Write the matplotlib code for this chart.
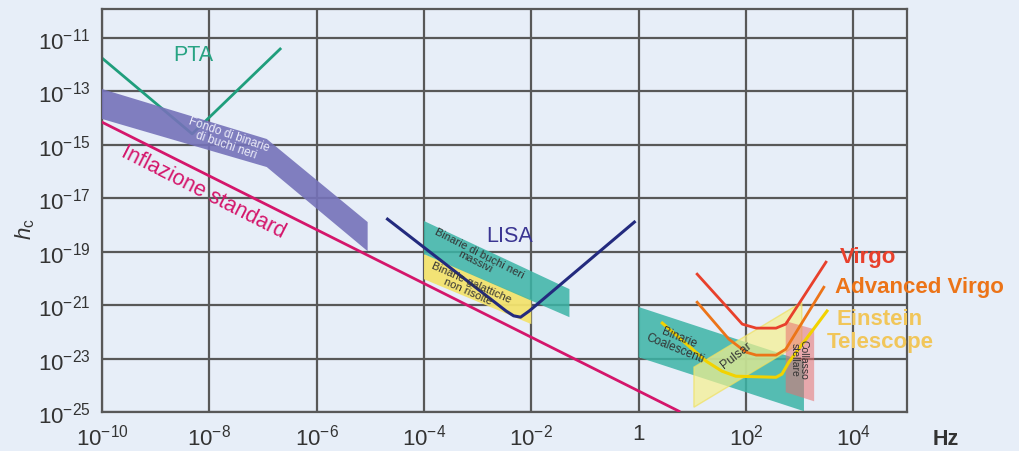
import numpy as np
import matplotlib
matplotlib.use("Agg")
import matplotlib.pyplot as plt
from matplotlib.patches import Polygon

plt.rcParams['font.family'] = ['Liberation Sans', 'DejaVu Sans']
plt.rcParams['mathtext.fontset'] = 'custom'
plt.rcParams['mathtext.rm'] = 'Liberation Sans'
plt.rcParams['mathtext.it'] = 'Liberation Sans:italic'
plt.rcParams['mathtext.bf'] = 'Liberation Sans:bold'
plt.rcParams['mathtext.default'] = 'regular'

# ---- data (log10 of frequency [Hz] and of h_c) ----
x_ticks_exp = [-10, -8, -6, -4, -2, 0, 2, 4]
x_tick_labels = [r'$10^{-10}$', r'$10^{-8}$', r'$10^{-6}$', r'$10^{-4}$', r'$10^{-2}$', '1', r'$10^{2}$', r'$10^{4}$']
y_ticks_exp = [-11, -13, -15, -17, -19, -21, -23, -25]
y_tick_labels = [r'$10^{-11}$', r'$10^{-13}$', r'$10^{-15}$', r'$10^{-17}$', r'$10^{-19}$', r'$10^{-21}$', r'$10^{-23}$', r'$10^{-25}$']

pta_x = [-10.0, -8.32, -6.68]
pta_y = [-11.75, -14.59, -11.41]

infl_x = [-10.0, 0.75]
infl_y = [-14.15, -24.97]

smbh_bg_x = [-10.0, -6.93, -5.05, -5.05, -6.93, -10.0]
smbh_bg_y = [-12.91, -14.78, -17.89, -18.98, -15.83, -14.03]

lisa_x = [-4.68, -2.47, -2.33, -2.20, -2.04, -0.08]
lisa_y = [-17.78, -21.22, -21.40, -21.45, -21.22, -17.89]

massive_x = [-4.0, -1.29, -1.29, -4.0]
massive_y = [-17.85, -20.40, -21.45, -19.09]

galactic_x = [-4.0, -2.0, -2.0, -4.0]
galactic_y = [-19.09, -20.78, -21.71, -20.03]

coalesc_x = [0.0, 3.08, 3.08, 0.0]
coalesc_y = [-21.07, -23.10, -24.97, -22.95]

pulsar_x = [1.03, 3.04, 3.04, 1.03]
pulsar_y = [-23.32, -20.89, -22.39, -24.82]

collapse_x = [2.74, 3.27, 3.27, 2.74]
collapse_y = [-21.60, -21.90, -24.60, -24.26]

virgo_x = [1.09, 1.68, 1.93, 2.19, 2.56, 2.74, 3.49]
virgo_y = [-19.84, -21.15, -21.71, -21.86, -21.86, -21.71, -19.39]

advvirgo_x = [1.09, 1.68, 2.00, 2.19, 2.56, 2.74, 3.45]
advvirgo_y = [-20.89, -22.27, -22.76, -22.87, -22.87, -22.65, -20.33]

et_x = [0.44, 1.26, 1.55, 1.81, 2.56, 2.67, 2.80, 3.51]
et_y = [-21.67, -23.10, -23.47, -23.66, -23.70, -23.58, -23.13, -21.22]


def p(v):
    return np.power(10.0, np.asarray(v, dtype=float))


bg = '#e7eef8'
fig = plt.figure(figsize=(10.2, 4.52), dpi=100, facecolor=bg)
ax = fig.add_axes([102/1020, 1 - 413/452, 805/1020, 403/452])
ax.set_facecolor(bg)
ax.set_xscale('log')
ax.set_yscale('log')
ax.set_xlim(1e-10, 1e5)
ax.set_ylim(1e-25, 10**-9.914)

gridc = '#585858'
ax.set_xticks(p(x_ticks_exp))
ax.set_xticklabels(x_tick_labels)
ax.set_yticks(p(y_ticks_exp))
ax.set_yticklabels(y_tick_labels)
ax.minorticks_off()
ax.tick_params(axis='both', length=0, labelsize=16, labelcolor='#333333')
ax.tick_params(axis='x', pad=8)
ax.tick_params(axis='y', pad=8)
ax.grid(True, color=gridc, linewidth=1.6, zorder=0)
ax.set_axisbelow(True)
for s in ax.spines.values():
    s.set_color(gridc)
    s.set_linewidth(1.6)

# bands
def band(xs, ys, color, alpha, z, edge='none', lw=0):
    poly = Polygon(np.column_stack([p(xs), p(ys)]), closed=True, facecolor=color,
                   edgecolor=edge, linewidth=lw, alpha=alpha, zorder=z)
    ax.add_patch(poly)

ax.plot(p(pta_x), p(pta_y), color='#1f9e7c', lw=2.0, zorder=2)
band(smbh_bg_x, smbh_bg_y, '#7572b9', 0.9, 3)
ax.plot(p(infl_x), p(infl_y), color='#d4166b', lw=2.0, zorder=4)

band(galactic_x, galactic_y, '#f3e36e', 0.95, 2)
band(massive_x, massive_y, '#3bb4a6', 0.85, 2.5)
ax.plot(p(lisa_x), p(lisa_y), color='#232a7e', lw=2.2, zorder=4, solid_joinstyle='round')

band(coalesc_x, coalesc_y, '#3bb4a6', 0.85, 2)
band(pulsar_x, pulsar_y, '#f6f08c', 0.7, 2.6, edge='#f0e060', lw=1.0)
band(collapse_x, collapse_y, '#e86f6f', 0.55, 2.7)

ax.plot(p(virgo_x), p(virgo_y), color='#e8402c', lw=2.0, zorder=4)
ax.plot(p(advvirgo_x), p(advvirgo_y), color='#ec7418', lw=2.0, zorder=4)
ax.plot(p(et_x), p(et_y), color='#f2d200', lw=2.2, zorder=4.5)

# labels
ax.text(p(-8.29), p(-11.6), 'PTA', color='#27a383', fontsize=15.5, ha='center', va='center', zorder=5)
ax.text(p(-8.12), p(-16.73), 'Inflazione standard', color='#d4166b', fontsize=15.5,
        rotation=-27, ha='center', va='center', rotation_mode='anchor', zorder=5)
ax.text(p(-7.66), p(-14.78), 'Fondo di binarie\ndi buchi neri', color='#eeeefa', fontsize=8.5,
        rotation=-19, ha='center', va='center', rotation_mode='anchor', linespacing=0.9, zorder=5)
ax.text(p(-2.40), p(-18.41), 'LISA', color='#3a3592', fontsize=15.5, ha='center', va='center', zorder=5)
ax.text(p(-3.0), p(-19.2), 'Binarie di buchi neri\nmassivi', color='#333333', fontsize=8,
        rotation=-27, ha='center', va='center', rotation_mode='anchor', linespacing=0.9, zorder=5)
ax.text(p(-3.15), p(-20.29), 'Binarie galattiche\nnon risolte', color='#333333', fontsize=8,
        rotation=-24, ha='center', va='center', rotation_mode='anchor', linespacing=0.9, zorder=5)
ax.text(p(0.72), p(-22.39), 'Binarie\nCoalescenti', color='#333333', fontsize=8.5,
        rotation=-22, ha='center', va='center', rotation_mode='anchor', linespacing=0.9, zorder=5)
ax.text(p(1.81), p(-22.87), 'Pulsar', color='#333333', fontsize=9,
        rotation=38, ha='center', va='center', rotation_mode='anchor', zorder=5)
ax.text(p(2.99), p(-23.02), 'Collasso\nstellare', color='#333333', fontsize=7.5,
        rotation=-90, ha='center', va='center', rotation_mode='anchor', linespacing=0.9, zorder=5)

fig.text(840/1020, 1 - 257/452, 'Virgo', color='#e8402c', fontsize=16, fontweight='bold', ha='left', va='center')
fig.text(835/1020, 1 - 287/452, 'Advanced Virgo', color='#ec7418', fontsize=16, fontweight='bold', ha='left', va='center')
fig.text(837/1020, 1 - 320/452, 'Einstein', color='#f1c65a', fontsize=16, fontweight='bold', ha='left', va='center')
fig.text(827/1020, 1 - 343/452, 'Telescope', color='#f1c65a', fontsize=16, fontweight='bold', ha='left', va='center')

fig.text(946/1020, 1 - 440/452, 'Hz', color='#333333', fontsize=15.5, fontweight='bold', ha='center', va='center')
fig.text(25/1020, 1 - 229/452, r'$\mathit{h}_{c}$', color='#333333', fontsize=16, rotation=90, ha='center', va='center')

fig.savefig('out.png', dpi=100, facecolor=bg)
